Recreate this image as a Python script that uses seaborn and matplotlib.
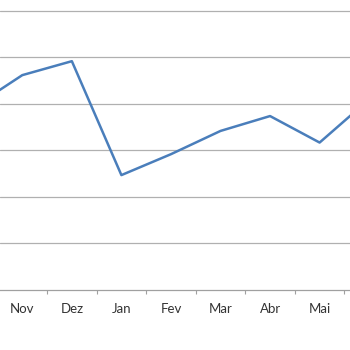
import matplotlib
matplotlib.use("Agg")
import matplotlib.pyplot as plt
import seaborn as sns
import pandas as pd
import numpy as np

months = ["Out", "Nov", "Dez", "Jan", "Fev", "Mar", "Abr", "Mai", "Jun"]
values = [39.1, 46.1, 49.1, 24.6, 29.1, 34.1, 37.3, 31.6, 40.9]

sns.set_theme(style="white")
plt.rcParams['font.family'] = ['Lato', 'DejaVu Sans']

df = pd.DataFrame({"pos": np.arange(len(months)), "value": values})

fig = plt.figure(figsize=(3.5, 3.5), dpi=100)
bottom = (350 - 289.5) / 350
ax = fig.add_axes([0, bottom, 1, 1 - bottom])

sns.lineplot(data=df, x="pos", y="value", ax=ax, color="#4a7ebb",
             linewidth=1.8, sort=False)

ax.set_xticks(np.arange(len(months)))
ax.set_xticklabels(months)
ax.set_xticks(np.arange(len(months)) + 0.5, minor=True)
ax.tick_params(axis="x", which="major", length=0, pad=9.5, labelsize=9.5,
               labelcolor="#333333")
ax.tick_params(axis="x", which="minor", length=3, width=0.8,
               color="#a0a0a0", direction="out", bottom=True)
ax.set_yticks(np.arange(10, 61, 10))
ax.set_yticklabels([])
ax.tick_params(axis="y", length=0)

step = 49.55
x0 = 1 - 22.3 / step
x1 = 1 + (350 - 22.3) / step
ax.set_xlim(x0, x1)
ax.set_ylim(0, 289.5 / 46.5 * 10)

ax.grid(axis="y", color="#b0b0b0", linewidth=0.9)
ax.set_axisbelow(True)
for s in ["top", "left", "right"]:
    ax.spines[s].set_visible(False)
ax.spines["bottom"].set_color("#a0a0a0")
ax.spines["bottom"].set_linewidth(0.9)
ax.set_xlabel("")
ax.set_ylabel("")

fig.savefig("out.png", dpi=100)
